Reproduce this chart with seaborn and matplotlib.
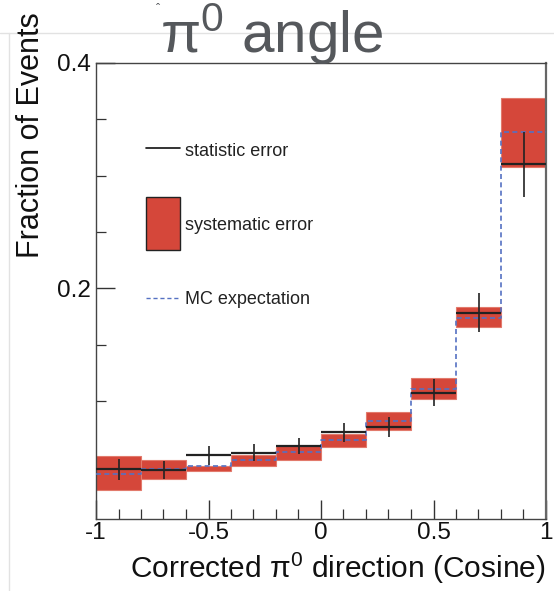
import numpy as np
import matplotlib
matplotlib.use("Agg")
import matplotlib.pyplot as plt
import seaborn as sns
from matplotlib.lines import Line2D
from matplotlib.patches import Rectangle

# ---- data ----
bin_edges = [-1.0, -0.8, -0.6, -0.4, -0.2, 0.0, 0.2, 0.4, 0.6, 0.8, 1.0]
data_vals = [0.0395, 0.0389, 0.0520, 0.0543, 0.0602, 0.0723, 0.0770, 0.1074, 0.1784, 0.3100]
stat_err = [0.0096, 0.0077, 0.0082, 0.0074, 0.0071, 0.0087, 0.0089, 0.0120, 0.0171, 0.0288]
syst_low = [0.0209, 0.0310, 0.0380, 0.0422, 0.0478, 0.0596, 0.0740, 0.1016, 0.1654, 0.3078]
syst_high = [0.0510, 0.0475, 0.0427, 0.0522, 0.0605, 0.0708, 0.0900, 0.1207, 0.1832, 0.3690]
mc_vals = [0.0356, 0.0395, 0.0425, 0.0475, 0.0546, 0.0655, 0.0826, 0.1110, 0.1737, 0.3388]
x_ticks = [-1, -0.5, 0, 0.5, 1]
x_tick_labels = ["-1", "-0.5", "0", "0.5", "1"]
y_ticks = [0.2, 0.4]
y_tick_labels = ["0.2", "0.4"]
legend_labels = ["statistic error", "systematic error", "MC expectation"]

sns.set_theme(style="ticks")
plt.rcParams["font.family"] = ["Liberation Sans", "DejaVu Sans"]

W, H = 554, 591
fig = plt.figure(figsize=(W / 100, H / 100), dpi=100)
ax = fig.add_axes([96 / W, 1 - 519 / H, 450 / W, (519 - 62.7) / H])

edges = np.array(bin_edges)
lefts = edges[:-1]
widths = np.diff(edges)
centers = lefts + widths / 2
lo = np.array(syst_low)
hi = np.array(syst_high)

red = "#d5473a"
blue = "#5571c2"

# systematic boxes
ax.bar(lefts, hi - lo, width=widths, bottom=lo, align="edge",
       color=red, edgecolor="#e27a6c", linewidth=0.8, zorder=2)

# MC expectation step (seaborn)
mc_ext = list(mc_vals) + [mc_vals[-1]]
sns.lineplot(x=edges, y=mc_ext, ax=ax, drawstyle="steps-post", color=blue,
             linestyle=(0, (3, 2)), linewidth=1.2, zorder=3, sort=False,
             estimator=None)

# data: horizontal bin lines + statistic error bars
ax.hlines(data_vals, lefts, lefts + widths, color="#222222", linewidth=1.6, zorder=4)
ax.vlines(centers, np.array(data_vals) - np.array(stat_err),
          np.array(data_vals) + np.array(stat_err),
          color="#222222", linewidth=1.2, zorder=4)

ax.set_xlim(-1, 1)
ax.set_ylim(-0.0045, 0.4)

ax.set_xticks(x_ticks)
ax.set_xticklabels(x_tick_labels)
ax.set_xticks(np.arange(-1, 1.0001, 0.1), minor=True)
ax.set_yticks(y_ticks)
ax.set_yticklabels(y_tick_labels)
ax.set_yticks(np.arange(0.05, 0.40001, 0.05), minor=True)
ax.tick_params(axis="both", which="major", direction="in", length=14, width=1.0,
               labelsize=17.5, color="#333333", labelcolor="#111111")
ax.tick_params(axis="both", which="minor", direction="in", length=7, width=0.9,
               color="#333333")
ax.tick_params(axis="x", which="both", pad=2)
ax.tick_params(axis="y", which="both", pad=4)
for s in ax.spines.values():
    s.set_visible(True)
    s.set_color("#444444")
    s.set_linewidth(1.0)
ax.spines["right"].set_linewidth(1.6)
ax.spines["right"].set_color("#666666")
ax.set_xlabel("")
ax.set_ylabel("")

# legend drawn inside axes
tr = ax.transAxes
ax.add_line(Line2D([0.111, 0.187], [0.813, 0.813], transform=tr, color="#111111", lw=1.2))
ax.add_patch(Rectangle((0.111, 0.589), 0.076, 0.117, transform=tr, facecolor=red,
                       edgecolor="#222222", lw=1.0))
ax.add_line(Line2D([0.111, 0.187], [0.484, 0.484], transform=tr, color=blue, lw=1.0,
                   linestyle=(0, (3, 2))))
ax.text(0.198, 0.806, legend_labels[0], transform=tr, fontsize=13, color="#222222", va="center")
ax.text(0.198, 0.644, legend_labels[1], transform=tr, fontsize=13, color="#222222", va="center")
ax.text(0.198, 0.480, legend_labels[2], transform=tr, fontsize=13, color="#222222", va="center")

# screenshot frame lines
fig.add_artist(Line2D([0, 1], [1 - 33 / H, 1 - 33 / H], transform=fig.transFigure,
                      color="#e2e2e2", lw=1.0))
fig.add_artist(Line2D([9 / W, 9 / W], [0, 1 - 33 / H], transform=fig.transFigure,
                      color="#e2e2e2", lw=1.0))

# titles / labels
fig.text(160 / W, 1 - 53 / H, r"$\mathregular{\pi^0}$ angle", fontsize=42,
         color="#55585c", ha="left", va="baseline", zorder=10)
fig.text(158 / W, 1 - 10 / H, "ˆ", fontsize=9, color="#55585c", ha="center", va="center")
fig.text(31 / W, 1 - 135 / H, "Fraction of Events", rotation=90, fontsize=22,
         color="#111111", ha="center", va="center")
fig.text(545 / W, 1 - 578 / H, r"Corrected $\mathregular{\pi^0}$ direction (Cosine)",
         fontsize=21.5, color="#111111", ha="right", va="baseline")

fig.savefig("out.png", dpi=100)
